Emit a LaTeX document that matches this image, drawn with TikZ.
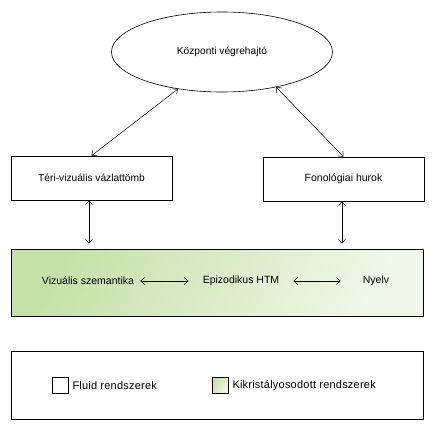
\documentclass[tikz,border=0pt]{standalone}
\usepackage{fontspec}
\setmainfont{Liberation Sans}
\newfontfamily\ritka[LetterSpace=2]{Liberation Sans}
\usepackage{xcolor}
\usetikzlibrary{shapes.geometric,arrows.meta}

\definecolor{zoldA}{RGB}{198,225,168}
\definecolor{zoldB}{RGB}{240,247,233}

\tikzset{
    vonal/.style={draw, line width=0.6pt},
    doboz/.style={vonal, minimum width=161pt, minimum height=44pt, font=\fontsize{10}{12}\selectfont},
    felirat/.style={inner sep=3pt, font=\fontsize{10.5}{12}\selectfont},
    kapocs/.style={<->, line width=0.5pt, >={Straight Barb[length=4pt,width=7pt]}},
    zold/.style={left color=zoldA, right color=zoldB, shading angle=60},
}

\begin{document}
\begin{tikzpicture}[x=1pt,y=-1pt]

    \useasboundingbox (0,0) rectangle (434,439);

    \node[vonal, ellipse, minimum width=221pt, minimum height=80pt, font=\fontsize{10.2}{12}\selectfont] (kv) at (222,52) {Központi végrehajtó};

    \node[doboz, font=\fontsize{10.2}{12}\selectfont] (tv) at (91.5,178) {Téri-vizuális vázlattömb};
    \node[doboz, font=\fontsize{10.5}{12}\selectfont] (fh) at (343.5,179) {Fonológiai hurok};

    % kristalyosodott sav
    \node[vonal, zold, minimum width=412pt, minimum height=67pt] (sav) at (217,282.5) {};
    \node[felirat] (vsz) at (88,281) {Vizuális szemantika};
    \node[felirat] (htm) at (241,281) {Epizodikus HTM};
    \node[felirat] (ny) at (376,281) {Nyelv};

    \draw[kapocs] (kv.220) -- (tv.north);
    \draw[kapocs] (kv.-33) -- (fh.north);
    \draw[kapocs, shorten >=5pt] ([xshift=-2.5pt]tv.south) -- ([xshift=-2.5pt]tv.south |- sav.north);
    \draw[kapocs, shorten >=5pt] ([xshift=-1.5pt]fh.south) -- ([xshift=-1.5pt]fh.south |- sav.north);

    \draw[kapocs, shorten <=3pt, shorten >=11pt] (vsz) -- (htm);
    \draw[kapocs, shorten <=11pt, shorten >=19pt] (htm) -- (ny);

    % jelmagyarazat
    \node[vonal, minimum width=412pt, minimum height=68pt] (jm) at (217,385) {};
    \node[vonal, minimum size=16pt, inner sep=0pt] (fn) at (60,385.5) {};
    \node[felirat, anchor=west, inner sep=0pt, font=\ritka\fontsize{11}{12}\selectfont] (fl) at ([xshift=4pt]fn.east) {Fluid rendszerek};
    \node[vonal, zold, minimum size=16pt, inner sep=0pt] (kn) at (220,385.5) {};
    \node[felirat, anchor=west, inner sep=0pt, font=\ritka\fontsize{11}{12}\selectfont] (kl) at ([xshift=4pt]kn.east) {Kikristályosodott rendszerek};

\end{tikzpicture}
\end{document}
